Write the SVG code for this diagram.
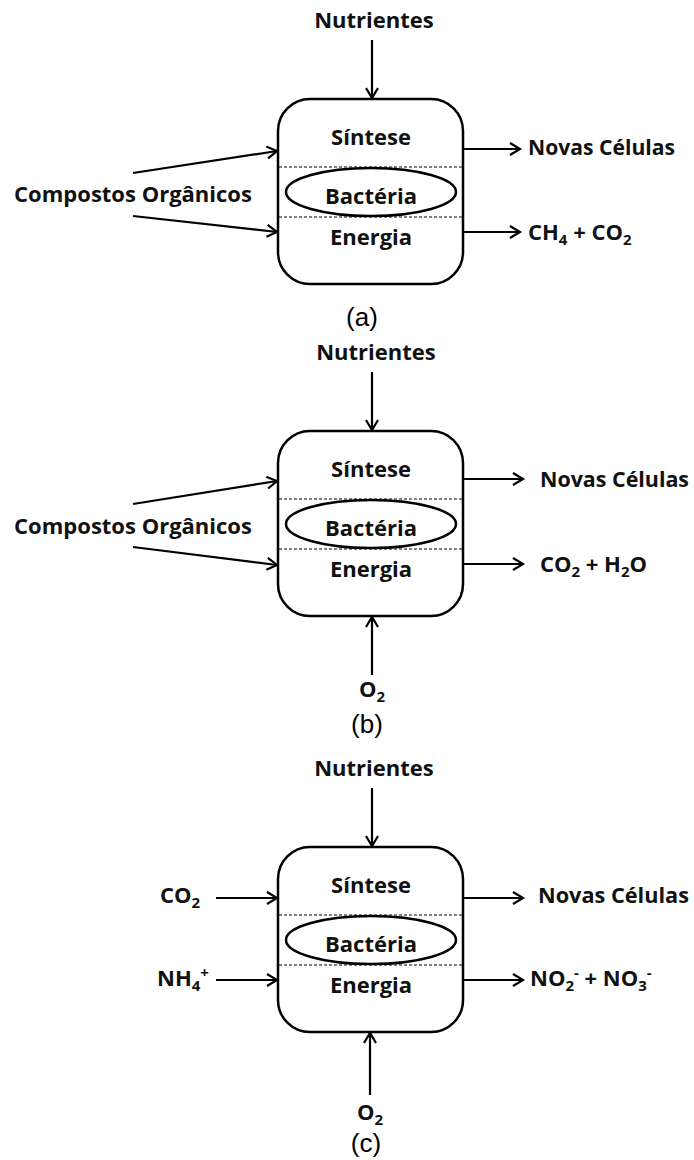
<svg xmlns="http://www.w3.org/2000/svg" width="694" height="1160" viewBox="0 0 694 1160">
  <style>
    .lbl { font-family: "Open Sans", "Noto Sans", sans-serif; font-weight: 700; font-size: 22px; fill: #111; }
    .sub { font-size: 15px; }
    .cap { font-family: "Liberation Sans", Arial, sans-serif; font-size: 26px; fill: #000; }
    .box { fill: #fff; stroke: #000; stroke-width: 2.5; }
    .sep { stroke: #000; stroke-width: 1; stroke-dasharray: 3 2; }
    .cell { fill: none; stroke: #000; stroke-width: 2.5; }
    .arr { fill: none; stroke: #000; stroke-width: 2.2; marker-end: url(#head); }
  </style>
  <defs>
    <marker id="head" markerUnits="userSpaceOnUse" markerWidth="14" markerHeight="14" refX="11" refY="7" orient="auto">
      <path d="M1,1 L11,7 L1,13" fill="none" stroke="#000" stroke-width="2.2" stroke-linejoin="miter"/>
    </marker>
    <!-- bacterium compartment: synthesis / cell / energy -->
    <g id="reactor">
      <rect class="box" x="278" y="99" width="185" height="185" rx="32" ry="32"/>
      <line class="sep" x1="279" y1="167" x2="462" y2="167"/>
      <line class="sep" x1="279" y1="217" x2="462" y2="217"/>
      <ellipse class="cell" cx="371" cy="192" rx="85" ry="24"/>
      <text class="lbl" x="371" y="145" text-anchor="middle">Síntese</text>
      <text class="lbl" x="371" y="204" text-anchor="middle">Bactéria</text>
      <text class="lbl" x="371" y="245" text-anchor="middle">Energia</text>
    </g>
  </defs>

  <!-- (a) anaerobic heterotroph -->
  <g id="panel-a">
    <g id="a-nutrientes"><text class="lbl" x="374" y="28" text-anchor="middle">Nutrientes</text></g>
    <g id="a-bacteria"><use href="#reactor"/></g>
    <g id="a-compostos"><text class="lbl" x="133" y="202" text-anchor="middle">Compostos Orgânicos</text></g>
    <g id="a-novas"><text class="lbl" x="528" y="155" textLength="147" lengthAdjust="spacingAndGlyphs">Novas Células</text></g>
    <g id="a-produtos"><text class="lbl" x="528" y="240">CH<tspan class="sub" dy="5">4</tspan><tspan dy="-5"> + CO</tspan><tspan class="sub" dy="5">2</tspan></text></g>
    <g id="a-connectors">
      <line class="arr" x1="372" y1="40" x2="372" y2="98"/>
      <line class="arr" x1="133" y1="173" x2="277" y2="151"/>
      <line class="arr" x1="133" y1="216" x2="277" y2="232"/>
      <line class="arr" x1="463" y1="149" x2="520" y2="149"/>
      <line class="arr" x1="463" y1="232" x2="520" y2="232"/>
    </g>
    <text class="cap" x="362" y="326" text-anchor="middle">(a)</text>
  </g>

  <!-- (b) aerobic heterotroph -->
  <g id="panel-b" transform="translate(0,332)">
    <g id="b-nutrientes"><text class="lbl" x="376" y="28" text-anchor="middle">Nutrientes</text></g>
    <g id="b-bacteria"><use href="#reactor"/></g>
    <g id="b-compostos"><text class="lbl" x="133" y="202" text-anchor="middle">Compostos Orgânicos</text></g>
    <g id="b-novas"><text class="lbl" x="540" y="155" textLength="149" lengthAdjust="spacingAndGlyphs">Novas Células</text></g>
    <g id="b-produtos"><text class="lbl" x="540" y="240">CO<tspan class="sub" dy="5">2</tspan><tspan dy="-5"> + H</tspan><tspan class="sub" dy="5">2</tspan><tspan dy="-5">O</tspan></text></g>
    <g id="b-o2"><text class="lbl" x="372" y="365" text-anchor="middle">O<tspan class="sub" dy="5">2</tspan></text></g>
    <g id="b-connectors">
      <line class="arr" x1="372" y1="40" x2="372" y2="98"/>
      <line class="arr" x1="133" y1="172" x2="277" y2="149"/>
      <line class="arr" x1="133" y1="215" x2="277" y2="233"/>
      <line class="arr" x1="463" y1="147" x2="523" y2="147"/>
      <line class="arr" x1="463" y1="232" x2="523" y2="232"/>
      <line class="arr" x1="372" y1="343" x2="372" y2="285"/>
    </g>
    <text class="cap" x="367" y="401" text-anchor="middle">(b)</text>
  </g>

  <!-- (c) nitrifying autotroph -->
  <g id="panel-c" transform="translate(0,748)">
    <g id="c-nutrientes"><text class="lbl" x="374" y="28" text-anchor="middle">Nutrientes</text></g>
    <g id="c-bacteria"><use href="#reactor"/></g>
    <g id="c-co2"><text class="lbl" x="160" y="155">CO<tspan class="sub" dy="5">2</tspan></text></g>
    <g id="c-nh4"><text class="lbl" x="157" y="238">NH<tspan class="sub" dy="5">4</tspan><tspan class="sub" dy="-13">+</tspan></text></g>
    <g id="c-novas"><text class="lbl" x="538" y="155" textLength="151" lengthAdjust="spacingAndGlyphs">Novas Células</text></g>
    <g id="c-produtos"><text class="lbl" x="530" y="238">NO<tspan class="sub" dy="5">2</tspan><tspan class="sub" dy="-13">-</tspan><tspan dy="8"> + NO</tspan><tspan class="sub" dy="5">3</tspan><tspan class="sub" dy="-13">-</tspan></text></g>
    <g id="c-o2"><text class="lbl" x="370" y="372" text-anchor="middle">O<tspan class="sub" dy="5">2</tspan></text></g>
    <g id="c-connectors">
      <line class="arr" x1="372" y1="40" x2="372" y2="98"/>
      <line class="arr" x1="216" y1="150" x2="277" y2="150"/>
      <line class="arr" x1="216" y1="232" x2="277" y2="232"/>
      <line class="arr" x1="463" y1="150" x2="523" y2="150"/>
      <line class="arr" x1="463" y1="232" x2="523" y2="232"/>
      <line class="arr" x1="370" y1="347" x2="370" y2="285"/>
    </g>
    <text class="cap" x="366" y="404" text-anchor="middle">(c)</text>
  </g>
</svg>
